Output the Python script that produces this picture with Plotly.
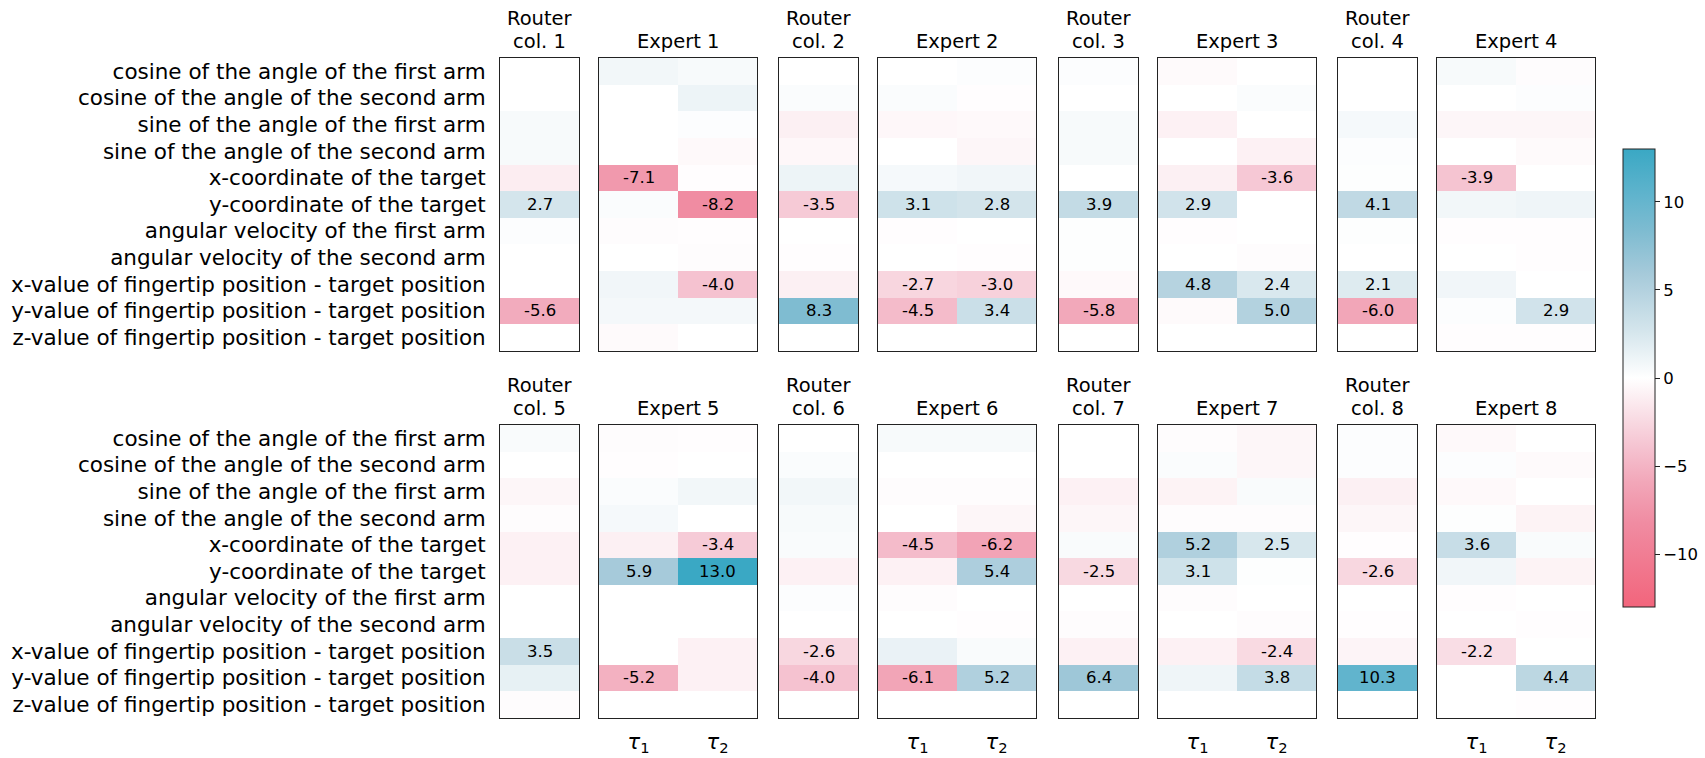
import plotly.graph_objects as go

features = [
    "cosine of the angle of the first arm",
    "cosine of the angle of the second arm",
    "sine of the angle of the first arm",
    "sine of the angle of the second arm",
    "x-coordinate of the target",
    "y-coordinate of the target",
    "angular velocity of the first arm",
    "angular velocity of the second arm",
    "x-value of fingertip position - target position",
    "y-value of fingertip position - target position",
    "z-value of fingertip position - target position",
]

router_title_l1 = "Router"
router_title_l2 = ["col. %d" % i for i in range(1, 9)]
expert_titles = ["Expert %d" % i for i in range(1, 9)]
tau_labels = ["<i>τ</i><sub>1</sub>", "<i>τ</i><sub>2</sub>"]

# router columns (one list of 11 feature values per router column)
router_cols = [
    [0.0, 0.0, 0.5, 0.5, -1.2, 2.7, 0.2, 0.0, 0.0, -5.6, 0.0],
    [0.0, 0.3, -1.0, -0.5, 1.1, -3.5, 0.0, -0.1, -1.0, 8.3, 0.0],
    [0.2, 0.0, 0.5, 0.5, 0.0, 3.9, 0.1, 0.1, -0.4, -5.8, 0.0],
    [0.0, 0.0, 0.6, 0.2, 0.1, 4.1, 0.1, 0.0, 2.1, -6.0, 0.0],
    [0.4, 0.0, -0.6, -0.2, -0.9, -0.9, 0.0, 0.0, 3.5, 1.5, -0.2],
    [0.0, 0.3, 0.8, 0.5, 0.4, -0.9, 0.2, 0.0, -2.6, -4.0, 0.0],
    [0.0, 0.0, -0.9, -0.6, 0.4, -2.5, 0.0, -0.2, -0.9, 6.4, 0.0],
    [0.2, 0.2, -1.0, -0.6, -0.1, -2.6, 0.0, -0.1, -0.7, 10.3, 0.0],
]

# expert weights for tau_1 and tau_2
expert_tau1 = [
    [0.8, 0.0, 0.0, 0.0, -7.1, 0.3, -0.2, 0.0, 0.9, 0.7, -0.3],
    [0.0, 0.3, -0.5, 0.0, 0.6, 3.1, -0.1, 0.0, -2.7, -4.5, 0.0],
    [-0.3, 0.0, -0.9, 0.0, -1.0, 2.9, -0.1, 0.0, 4.8, -0.3, 0.0],
    [0.5, 0.0, -0.6, 0.0, -3.9, 0.8, -0.1, 0.0, 0.9, 0.2, -0.1],
    [-0.2, -0.1, 0.3, 0.6, -1.0, 5.9, 0.0, 0.0, 0.0, -5.2, 0.0],
    [0.5, 0.0, -0.2, 0.0, -4.5, -0.9, -0.2, 0.0, 1.3, -6.1, 0.0],
    [-0.2, 0.3, -0.8, -0.2, 5.2, 3.1, -0.2, 0.0, -0.9, 1.0, 0.0],
    [-0.4, 0.2, -0.4, 0.1, 3.6, 0.9, -0.1, 0.0, -2.2, 0.0, 0.0],
]
expert_tau2 = [
    [0.5, 1.1, 0.2, -0.4, -0.1, -8.2, -0.1, -0.2, -4.0, 0.7, 0.0],
    [0.2, -0.1, -0.4, -0.6, 0.9, 2.8, 0.0, -0.1, -3.0, 3.4, 0.0],
    [0.0, 0.3, 0.0, -0.9, -3.6, 0.0, 0.0, -0.2, 2.4, 5.0, 0.0],
    [-0.2, 0.2, -0.6, -0.3, 0.0, 1.0, -0.1, -0.1, 0.0, 2.9, -0.1],
    [-0.1, 0.0, 0.8, 0.0, -3.4, 13.0, 0.0, 0.0, -0.9, -0.9, 0.0],
    [0.5, 0.0, -0.2, -0.6, -6.2, 5.4, 0.0, -0.1, 0.4, 5.2, 0.0],
    [-0.6, -0.6, 0.4, -0.2, 2.5, 0.1, 0.0, -0.2, -2.4, 3.8, 0.0],
    [0.0, -0.3, 0.0, -0.8, 0.4, -0.8, 0.0, -0.1, 0.0, 4.4, -0.1],
]

VMAX = 13.0
stops = [
    (-13.0, (242, 101, 124)),
    (-8.2, (240, 140, 162)),
    (-5.9, (242, 167, 185)),
    (-4.0, (245, 194, 208)),
    (-2.6, (248, 215, 224)),
    (0.0, (255, 255, 255)),
    (2.7, (212, 229, 236)),
    (4.1, (192, 217, 228)),
    (5.9, (166, 202, 218)),
    (8.3, (127, 188, 209)),
    (10.3, (97, 180, 205)),
    (13.0, (58, 168, 196)),
]
colorscale = [[(v + VMAX) / (2 * VMAX), "rgb(%d,%d,%d)" % c] for v, c in stops]

W, H = 1705, 758
FONT = "DejaVu Sans"

# layout geometry in screenshot pixels
router_left = [500, 779, 1059, 1338]
router_w = 79
expert_off = 99
expert_w = 158
rows_y = [(58, 350.5), (425, 717.5)]


def fx(p):
    return p / W


def fy(p):
    return 1 - p / H


def title_ann(text, xc, yc):
    return dict(
        text=text, xref="paper", yref="paper",
        x=fx(xc), y=fy(yc),
        xanchor="center", yanchor="middle", showarrow=False,
        font=dict(family=FONT, size=19.5, color="black"),
    )


fig = go.Figure()
layout = {}
annotations = []
ax = 0
for r in range(2):
    top, bottom = rows_y[r]
    for k in range(4):
        idx = r * 4 + k
        for kind in ("router", "expert"):
            ax += 1
            suffix = "" if ax == 1 else str(ax)
            if kind == "router":
                cols = [router_cols[idx]]
                x0 = router_left[k]
                x1 = x0 + router_w
                annotations.append(title_ann(router_title_l1, (x0 + x1) / 2, top - 40))
                annotations.append(title_ann(router_title_l2[idx], (x0 + x1) / 2, top - 17))
            else:
                cols = [expert_tau1[idx], expert_tau2[idx]]
                x0 = router_left[k] + expert_off
                x1 = x0 + expert_w
                annotations.append(title_ann(expert_titles[idx], (x0 + x1) / 2, top - 17))
            z = [[col[i] for col in cols] for i in range(len(features))]
            fig.add_trace(go.Heatmap(
                z=z,
                x=list(range(len(cols))),
                y=list(range(len(features))),
                coloraxis="coloraxis",
                xaxis="x" + suffix,
                yaxis="y" + suffix,
                hoverinfo="skip",
            ))
            # value labels for the strong weights
            for j, col in enumerate(cols):
                for i, v in enumerate(col):
                    if abs(v) >= 2:
                        annotations.append(dict(
                            text="%.1f" % v, x=j, y=i,
                            xref="x" + suffix, yref="y" + suffix,
                            showarrow=False, xanchor="center", yanchor="middle",
                            font=dict(family=FONT, size=16.5, color="black"),
                        ))
            show_tau = (kind == "expert" and r == 1)
            layout["xaxis" + suffix] = dict(
                domain=[fx(x0), fx(x1)],
                anchor="y" + suffix,
                range=[-0.5, len(cols) - 0.5],
                showgrid=False, zeroline=False,
                showline=True, mirror=True, linecolor="#222", linewidth=1,
                ticks="",
                tickvals=[0, 1] if show_tau else [],
                ticktext=tau_labels if show_tau else [],
                showticklabels=show_tau,
                tickfont=dict(family=FONT, size=21, color="black"),
                ticklabelstandoff=5,
                fixedrange=True,
            )
            first = (kind == "router" and k == 0)
            layout["yaxis" + suffix] = dict(
                domain=[fy(bottom), fy(top)],
                anchor="x" + suffix,
                range=[len(features) - 0.5, -0.5],
                showgrid=False, zeroline=False,
                showline=True, mirror=True, linecolor="#222", linewidth=1,
                ticks="",
                tickvals=list(range(len(features))) if first else [],
                ticktext=features if first else [],
                showticklabels=first,
                tickfont=dict(family=FONT, size=21.5, color="black"),
                ticklabelstandoff=9,
                fixedrange=True,
            )

cb_top, cb_bottom = 149, 607
fig.update_layout(
    width=W, height=H,
    margin=dict(l=0, r=0, t=0, b=0),
    paper_bgcolor="white", plot_bgcolor="white",
    font=dict(family=FONT, color="black"),
    coloraxis=dict(
        cmin=-VMAX, cmax=VMAX, colorscale=colorscale,
        colorbar=dict(
            x=fx(1623), xanchor="left",
            y=fy((cb_top + cb_bottom) / 2), yanchor="middle",
            len=(cb_bottom - cb_top) / H, lenmode="fraction",
            thickness=32, thicknessmode="pixels",
            outlinewidth=1, outlinecolor="#222",
            ticks="outside", ticklen=5, tickcolor="#222",
            tickvals=[-10, -5, 0, 5, 10],
            tickfont=dict(family=FONT, size=16.5, color="black"),
            xpad=0, ypad=0,
        ),
    ),
    annotations=annotations,
    showlegend=False,
    **layout,
)

fig.write_html(
    "out.html",
    config={"displayModeBar": False},
    post_script="document.body.style.margin='0';document.body.style.overflow='hidden';",
)
